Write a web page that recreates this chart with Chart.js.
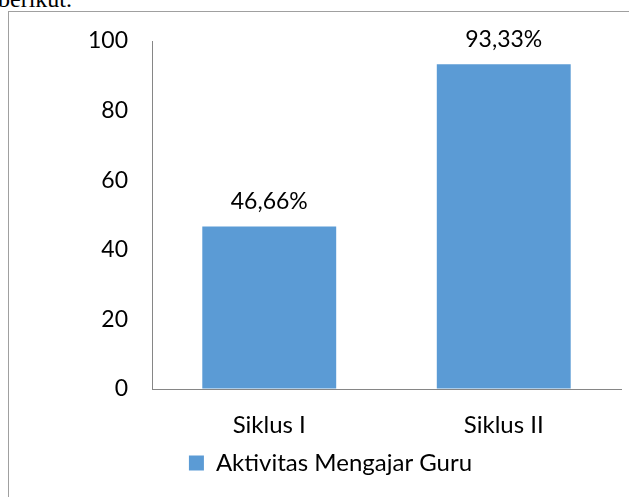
<!DOCTYPE html>
<html>
<head>
<meta charset="utf-8">
<script src="https://cdn.jsdelivr.net/npm/chart.js@4/dist/chart.umd.min.js"></script>
<style>
    html, body { margin: 0; padding: 0; background: #fff; }
    body { width: 629px; height: 497px; position: relative; overflow: hidden; }
    #teks { position: absolute; left: -2px; top: -13px; font-family: "Liberation Serif", serif; font-size: 24px; line-height: 24px; color: #000; white-space: nowrap; }
    #bingkai { position: absolute; left: 8px; top: 11px; width: 700px; height: 600px; border-left: 1px solid #a0a0a0; border-top: 1px solid #a0a0a0; }
    #wadah { position: absolute; left: 0; top: 0; width: 629px; height: 497px; }
</style>
</head>
<body>
<div id="teks">berikut.</div>
<div id="bingkai"></div>
<div id="wadah"><canvas id="grafikAktivitas"></canvas></div>
<script>
// Data grafik
const kategori = ['Siklus I', 'Siklus II'];
const nilaiAktivitas = [46.66, 93.33];
const labelSeri = 'Aktivitas Mengajar Guru';
const tickY = [0, 20, 40, 60, 80, 100];

const FONT = 'Lato, "Open Sans", sans-serif';

// Plugin sederhana untuk label nilai di atas batang
const labelNilai = {
    id: 'labelNilai',
    afterDatasetsDraw(chart) {
        const ctx = chart.ctx;
        const meta = chart.getDatasetMeta(0);
        ctx.save();
        ctx.font = '23px ' + FONT;
        ctx.fillStyle = '#000';
        ctx.textAlign = 'center';
        ctx.textBaseline = 'middle';
        meta.data.forEach((bar, i) => {
            const teks = nilaiAktivitas[i].toFixed(2).replace('.', ',') + '%';
            ctx.fillText(teks, bar.x, bar.y - 25);
        });
        ctx.restore();
    }
};

const ctx = document.getElementById('grafikAktivitas');
new Chart(ctx, {
    type: 'bar',
    data: {
        labels: kategori,
        datasets: [{
            label: labelSeri,
            data: nilaiAktivitas,
            backgroundColor: '#5B9BD5',
            borderWidth: 0,
            categoryPercentage: 1,
            barPercentage: 0.571
        }]
    },
    options: {
        responsive: true,
        maintainAspectRatio: false,
        animation: false,
        layout: {
            padding: { top: 41, right: 8, left: 40, bottom: 12 }
        },
        plugins: {
            legend: {
                display: true,
                position: 'bottom',
                labels: {
                    font: { family: FONT, size: 24 },
                    color: '#000',
                    boxWidth: 15,
                    boxHeight: 15,
                    padding: 10
                }
            },
            tooltip: { enabled: false }
        },
        scales: {
            x: {
                grid: { display: true, color: 'rgba(0,0,0,0)', drawTicks: false },
                border: { display: true, color: '#868686', width: 1 },
                ticks: {
                    font: { family: FONT, size: 24 },
                    color: '#000',
                    padding: 22
                },
                afterFit: s => { s.height = 52; }
            },
            y: {
                min: 0,
                max: 100,
                afterBuildTicks: s => { s.ticks = tickY.map(v => ({ value: v })); },
                grid: { display: true, color: 'rgba(0,0,0,0)', drawTicks: false },
                border: { display: true, color: '#868686', width: 1 },
                ticks: {
                    font: { family: FONT, size: 23 },
                    color: '#000',
                    padding: 24
                },
                afterFit: s => { s.width = 112; }
            }
        }
    },
    plugins: [labelNilai]
});
</script>
</body>
</html>
